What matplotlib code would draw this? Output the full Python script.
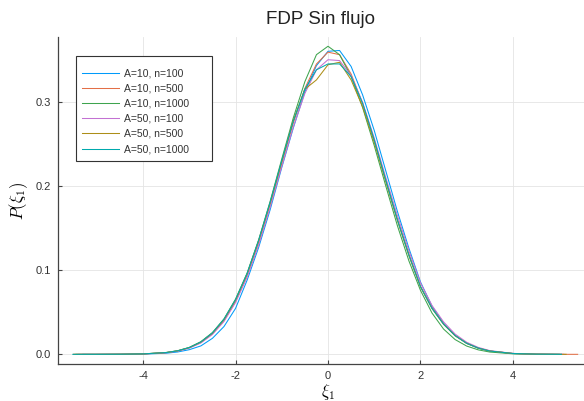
import matplotlib
matplotlib.use("Agg")
import matplotlib.pyplot as plt
from matplotlib.patches import Rectangle

plt.rcParams['font.family'] = ['Liberation Sans', 'DejaVu Sans']
plt.rcParams['mathtext.fontset'] = 'cm'

# shared interior grid of xi_1 values
x_mid = [-5, -4.5, -4, -3.5, -3.25, -3, -2.75, -2.5, -2.25, -2, -1.75, -1.5,
         -1.25, -1, -0.75, -0.5, -0.25, 0, 0.25, 0.5, 0.75, 1, 1.25, 1.5,
         1.75, 2, 2.25, 2.5, 2.75, 3, 3.25, 3.5, 4, 4.5, 5]

labels = ['A=10, n=100', 'A=10, n=500', 'A=10, n=1000',
          'A=50, n=100', 'A=50, n=500', 'A=50, n=1000']
colors = ['#009AFA', '#E36F47', '#3EA44E', '#C371D2', '#AC8E18', '#00A9AD']

# end points of each curve
x_lo = [-5.3, -5.5, -5.45, -5.4, -5.5, -5.52]
x_hi = [5.05, 5.40, 5.0, 5.1, 5.15, 5.05]

p_a10_n100 = [0.0000, 0.0001, 0.0003, 0.0013, 0.0028, 0.0055, 0.0100, 0.0190,
              0.0330, 0.0545, 0.0880, 0.1270, 0.1720, 0.2220, 0.2690, 0.3120,
              0.3430, 0.3600, 0.3610, 0.3420, 0.3080, 0.2660, 0.2180, 0.1700,
              0.1260, 0.0860, 0.0570, 0.0370, 0.0225, 0.0130, 0.0073, 0.0038,
              0.0009, 0.0002, 0.0000]
p_a10_n500 = [0.0000, 0.0001, 0.0004, 0.0020, 0.0040, 0.0077, 0.0140, 0.0244,
              0.0402, 0.0631, 0.0938, 0.1326, 0.1781, 0.2270, 0.2748, 0.3159,
              0.3449, 0.3590, 0.3560, 0.3330, 0.2980, 0.2540, 0.2070, 0.1610,
              0.1190, 0.0810, 0.0550, 0.0360, 0.0225, 0.0133, 0.0075, 0.0040,
              0.0010, 0.0002, 0.0000]
p_a10_n1000 = [0.0000, 0.0001, 0.0005, 0.0022, 0.0043, 0.0082, 0.0150, 0.0258,
               0.0420, 0.0655, 0.0965, 0.1360, 0.1820, 0.2320, 0.2810, 0.3240,
               0.3560, 0.3660, 0.3560, 0.3300, 0.2930, 0.2480, 0.2000, 0.1530,
               0.1110, 0.0760, 0.0490, 0.0300, 0.0175, 0.0098, 0.0053, 0.0027,
               0.0006, 0.0001, 0.0000]
p_a50_n100 = [0.0000, 0.0001, 0.0004, 0.0019, 0.0038, 0.0074, 0.0135, 0.0236,
              0.0390, 0.0615, 0.0915, 0.1300, 0.1750, 0.2230, 0.2700, 0.3100,
              0.3380, 0.3500, 0.3490, 0.3310, 0.2990, 0.2570, 0.2100, 0.1650,
              0.1230, 0.0850, 0.0580, 0.0385, 0.0240, 0.0143, 0.0082, 0.0044,
              0.0011, 0.0002, 0.0000]
p_a50_n500 = [0.0000, 0.0001, 0.0005, 0.0021, 0.0042, 0.0080, 0.0145, 0.0252,
              0.0412, 0.0645, 0.0955, 0.1350, 0.1800, 0.2290, 0.2780, 0.3150,
              0.3260, 0.3440, 0.3470, 0.3260, 0.2940, 0.2520, 0.2050, 0.1590,
              0.1170, 0.0800, 0.0545, 0.0358, 0.0220, 0.0130, 0.0073, 0.0039,
              0.0010, 0.0002, 0.0000]
p_a50_n1000 = [0.0000, 0.0001, 0.0005, 0.0021, 0.0042, 0.0081, 0.0147, 0.0255,
               0.0418, 0.0650, 0.0960, 0.1355, 0.1810, 0.2300, 0.2770, 0.3150,
               0.3380, 0.3450, 0.3450, 0.3300, 0.2980, 0.2550, 0.2070, 0.1600,
               0.1180, 0.0805, 0.0545, 0.0358, 0.0222, 0.0131, 0.0074, 0.0039,
               0.0010, 0.0002, 0.0000]
series = [p_a10_n100, p_a10_n500, p_a10_n1000, p_a50_n100, p_a50_n500, p_a50_n1000]

fig = plt.figure(figsize=(5.84, 4.01), dpi=100)
ax = fig.add_axes([58 / 584, 37 / 401, 540 / 584, 327 / 401])

for ys, lab, col, lo, hi in zip(series, labels, colors, x_lo, x_hi):
    ax.plot([lo] + x_mid + [hi], [0.0] + ys + [0.0], color=col, lw=0.75, label=lab)

ax.set_xlim(-5.84, 5.84)
ax.set_ylim(-0.0115, 0.377)
ax.set_xticks([-4, -2, 0, 2, 4])
ax.set_xticklabels(['-4', '-2', '0', '2', '4'])
ax.set_yticks([0.0, 0.1, 0.2, 0.3])
ax.set_yticklabels(['0.0', '0.1', '0.2', '0.3'])
ax.grid(True, color='#e4e4e4', lw=0.6)
ax.set_axisbelow(True)
for s in ['top', 'right']:
    ax.spines[s].set_visible(False)
for s in ['left', 'bottom']:
    ax.spines[s].set_color('#444444')
    ax.spines[s].set_linewidth(0.9)
ax.tick_params(direction='in', length=3, width=0.8, color='#444444',
               labelsize=8, labelcolor='#333333', pad=5)

ax.set_title('FDP Sin flujo', fontsize=13.5, color='#222222', pad=9,
             x=(321 - 58) / 540)
ax.set_xlabel(r'$\xi_1$', fontsize=12, labelpad=1)
ax.set_ylabel(r'$P(\xi_1)$', fontsize=12, labelpad=4)

# legend box drawn separately (wide right padding like the original)
box = Rectangle((76 / 584, 1 - 161 / 401), 136 / 584, 105 / 401,
                transform=fig.transFigure, facecolor='white',
                edgecolor='#333333', lw=0.8, zorder=5)
fig.patches.append(box)
leg = fig.legend(loc='upper left', bbox_to_anchor=(78 / 584, 1 - 64 / 401),
                 fontsize=7.5, frameon=False, borderpad=0.4,
                 handlelength=3.5, handletextpad=0.5, labelspacing=0.5,
                 borderaxespad=0)
leg.set_zorder(6)
for t in leg.get_texts():
    t.set_color('#333333')

fig.savefig('out.png', dpi=100)
